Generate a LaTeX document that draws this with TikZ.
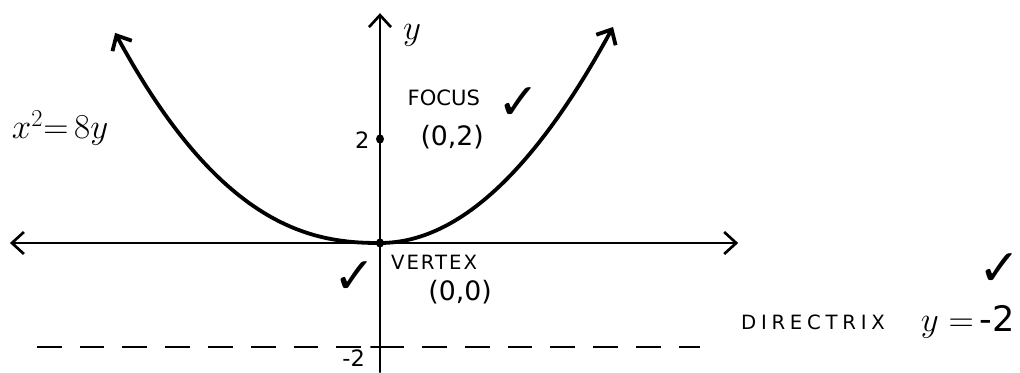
\documentclass[tikz,border=0pt]{standalone}
\usepackage{fontspec}
\setsansfont{DejaVu Sans}
\newfontfamily\capsfont{DejaVu Sans}
\newfontfamily\tickfont{DejaVu Sans}
\usepackage{tikz}
\usetikzlibrary{arrows.meta,positioning}

\begin{document}
\begin{tikzpicture}[
  x=1.1cm, y=1.3cm,
  ax/.style   ={line width=1.9pt,line cap=round},
  curve/.style={line width=2.7pt,line cap=round},
  guide/.style={line width=2pt,dash pattern=on 0.62cm off 0.45cm},
  word/.style ={font=\capsfont\fontsize{14}{16}\selectfont},
  pt/.style   ={font=\sffamily\fontsize{19}{22}\selectfont},
  num/.style  ={font=\sffamily\fontsize{16}{18}\selectfont},
  tick/.style ={font=\tickfont\fontsize{36}{38}\selectfont},
]
\useasboundingbox (-8.636,-2.481) rectangle (14.545,4.673);

% axes
\coordinate (O)  at (0,0);
\coordinate (xl) at (-8.41,0);
\coordinate (xr) at (8.14,0);
\coordinate (yb) at (0,-2.48);
\coordinate (yt) at (0,4.42);
\draw[ax,{Straight Barb[length=3mm,width=5.5mm]}-{Straight Barb[length=3mm,width=5.5mm]}] (xl) -- (xr);
\draw[ax,-{Straight Barb[length=3mm,width=5.5mm]}] (yb) -- (yt);

% directrix
\coordinate (dl) at (-7.8,-2);
\coordinate (dr) at (7.27,-2);
\draw[guide] (dl) -- (dr);
\draw[ax] (-0.2,-2) -- (0.2,-2);

% parabola x^2 = 8y (drawn by hand, left branch a little wider)
\draw[curve,{Straight Barb[length=3mm,width=5.5mm]}-{Straight Barb[length=3mm,width=5.5mm]}]
  plot[domain=1:0.002,samples=60] ({-6.02*\x},{4.04*\x^2.353})
  -- plot[domain=0:1,samples=60] ({5.3*\x},{4.16*\x*\x});

% points
\fill (O) circle (0.09);
\fill (0,2) coordinate (F) circle (0.09);

% labels
\node (ylab) at (0.73,4.0) {\fontsize{30}{32}\selectfont$y$};
\node[num] (two)  at (-0.4,1.97) {2};
\node[num] (mtwo) at (-0.6,-2.22) {-2};
\node (eq) at (-7.27,2.21) {\fontsize{26}{28}\selectfont$x^2{=}\,8y$};

\node[word,font=\capsfont\fontsize{15}{17}\selectfont] (focus) at (1.45,2.8) {FOCUS};
\node[pt] (fpt) at (1.64,2.04) {(0,2)};
\node[tick] (chkF) at (3.16,2.69) {✓};

\node[word,font=\capsfont\fontsize{14}{16}\selectfont\addfontfeature{LetterSpace=10}] (vertex) at (1.23,-0.38) {VERTEX};
\node[pt] (vpt) at (1.82,-0.94) {(0,0)};
\node[tick] (chkV) at (-0.57,-0.67) {✓};

\node[word,font=\capsfont\fontsize{14}{16}\selectfont\addfontfeature{LetterSpace=24},anchor=base] (dir) at (9.84,-1.67) {DIRECTRIX};
\node[anchor=base] (direq) at (13.36,-1.71)
  {\fontsize{25}{27}\selectfont$y=$\,\sffamily-2};
\node[tick] (chkD) at (14.09,-0.52) {✓};
\end{tikzpicture}
\end{document}
